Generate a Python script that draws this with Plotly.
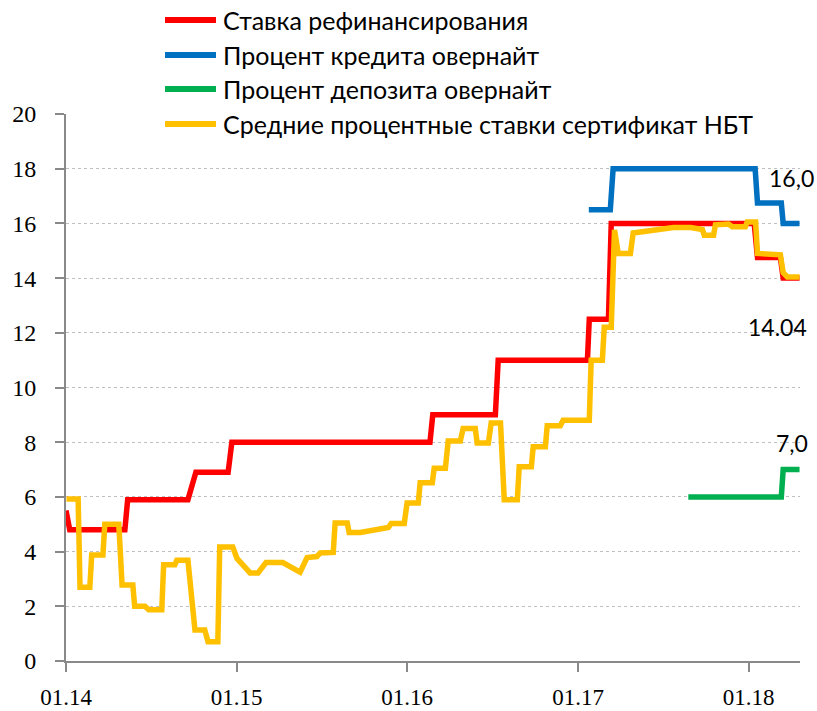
import plotly.graph_objects as go

# ---------------- data ----------------
refi_dates = ["2014-01-01", "2014-01-09", "2014-05-07", "2014-05-13", "2014-09-19", "2014-10-06",
              "2014-12-14", "2014-12-22", "2016-02-19", "2016-02-25", "2016-07-08", "2016-07-14",
              "2017-01-21", "2017-01-25", "2017-03-07", "2017-03-13", "2018-01-13", "2018-01-20",
              "2018-03-10", "2018-03-16", "2018-04-20"]
refi_values = [5.5, 4.8, 4.8, 5.9, 5.9, 6.9,
               6.9, 8.0, 8.0, 9.0, 9.0, 11.0,
               11.0, 12.5, 12.5, 16.0, 16.0, 14.75,
               14.75, 14.0, 14.0]

credit_dates = ["2017-01-24", "2017-03-11", "2017-03-17", "2018-01-15", "2018-01-20",
                "2018-03-12", "2018-03-16", "2018-04-20"]
credit_values = [16.5, 16.5, 18.0, 18.0, 16.75, 16.75, 16.0, 16.0]

deposit_dates = ["2017-08-25", "2018-03-12", "2018-03-16", "2018-04-20"]
deposit_values = [6.0, 6.0, 7.0, 7.0]

cert_dates = ["2014-01-02", "2014-01-27", "2014-01-31", "2014-02-21", "2014-02-25", "2014-03-21",
              "2014-03-25", "2014-04-24", "2014-05-01", "2014-05-24", "2014-05-28", "2014-06-19",
              "2014-06-27", "2014-07-25", "2014-07-29", "2014-08-22", "2014-08-26", "2014-09-19",
              "2014-10-04", "2014-10-25", "2014-11-01", "2014-11-22", "2014-11-26", "2014-12-24",
              "2015-01-02", "2015-01-30", "2015-02-16", "2015-03-05", "2015-04-10", "2015-05-17",
              "2015-06-01", "2015-06-22", "2015-06-29", "2015-07-27", "2015-07-31", "2015-08-26",
              "2015-08-30", "2015-09-23", "2015-11-22", "2015-11-28", "2015-12-26", "2016-01-01",
              "2016-01-25", "2016-01-29", "2016-02-24", "2016-02-28", "2016-03-23", "2016-03-29",
              "2016-04-24", "2016-04-30", "2016-05-26", "2016-05-30", "2016-06-23", "2016-06-29",
              "2016-07-19", "2016-07-27", "2016-08-24", "2016-08-28", "2016-09-23", "2016-09-27",
              "2016-10-23", "2016-10-27", "2016-11-24", "2016-11-30", "2017-01-25", "2017-01-29",
              "2017-02-22", "2017-02-26", "2017-03-13", "2017-03-20", "2017-03-28", "2017-04-23",
              "2017-04-29", "2017-05-25", "2017-06-26", "2017-07-24", "2017-08-30", "2017-09-24",
              "2017-09-28", "2017-10-18", "2017-10-22", "2017-11-19", "2017-11-27", "2017-12-25",
              "2017-12-29", "2018-01-16", "2018-01-20", "2018-02-21", "2018-03-10", "2018-03-16",
              "2018-03-25", "2018-04-20"]
cert_values = [5.92, 5.92, 2.7, 2.7, 3.88, 3.88,
               5.0, 5.0, 2.78, 2.78, 2.0, 2.0,
               1.87, 1.87, 3.52, 3.52, 3.68, 3.68,
               1.13, 1.13, 0.7, 0.7, 4.17, 4.17,
               3.75, 3.22, 3.22, 3.6, 3.6, 3.25,
               3.78, 3.82, 3.95, 3.97, 5.05, 5.05,
               4.7, 4.7, 4.88, 5.03, 5.03, 5.78,
               5.78, 6.52, 6.52, 7.05, 7.05, 8.04,
               8.04, 8.5, 8.5, 7.97, 7.97, 8.7,
               8.7, 5.9, 5.9, 7.1, 7.1, 7.83,
               7.83, 8.6, 8.6, 8.8, 8.8, 11.0,
               11.0, 12.2, 12.2, 15.76, 14.9, 14.9,
               15.65, 15.7, 15.8, 15.85, 15.85, 15.78,
               15.57, 15.57, 15.95, 15.98, 15.88, 15.88,
               16.05, 16.05, 14.9, 14.9, 14.85, 14.2,
               14.04, 14.04]

series_names = ["Ставка рефинансирования", "Процент кредита овернайт",
                "Процент депозита овернайт", "Средние процентные ставки сертификат НБТ"]
series_colors = ["#FF0000", "#0070C0", "#00B050", "#FFC000"]

tick_dates = ["2014-01-01", "2015-01-01", "2016-01-01", "2017-01-01", "2018-01-01"]
tick_labels = ["01.14", "01.15", "01.16", "01.17", "01.18"]
y_ticks = [0, 2, 4, 6, 8, 10, 12, 14, 16, 18, 20]

labels_text = ["16,0", "14.04", "7,0"]
labels_x = ["2018-04-03", "2018-03-04", "2018-04-03"]
labels_y = [17.66, 12.21, 7.97]

# ---------------- figure ----------------
W, H = 817, 711
ML, MR, MT, MB = 66, 17, 114, 50
PW, PH = W - ML - MR, H - MT - MB


def px_x(px):
    return (px - ML) / PW


def px_y(py):
    return (H - MB - py) / PH


fig = go.Figure()
all_series = [(refi_dates, refi_values), (credit_dates, credit_values),
              (deposit_dates, deposit_values), (cert_dates, cert_values)]
# draw order: blue, green, red, yellow (yellow on top of red)
for idx in [1, 2, 0, 3]:
    d, v = all_series[idx]
    fig.add_trace(go.Scatter(x=d, y=v, mode="lines", name=series_names[idx],
                             line=dict(color=series_colors[idx], width=5.5),
                             showlegend=False, hoverinfo="skip"))

sans = "Lato"
serif = "Liberation Serif"
# manual legend
row_y = [20, 55, 89, 124]
for i, name in enumerate(series_names):
    fig.add_shape(type="line", xref="paper", yref="paper",
                  x0=px_x(165), x1=px_x(216), y0=px_y(row_y[i]), y1=px_y(row_y[i]),
                  line=dict(color=series_colors[i], width=6), layer="above")
    fig.add_annotation(text=name, xref="paper", yref="paper",
                       x=px_x(221), y=px_y(row_y[i]), xanchor="left", yanchor="middle",
                       showarrow=False, font=dict(family=sans, size=25, color="#000000"))

for t, x, y in zip(labels_text, labels_x, labels_y):
    fig.add_annotation(text=t, x=x, y=y, xref="x", yref="y", xanchor="center",
                       yanchor="middle", showarrow=False,
                       font=dict(family=sans, size=23, color="#000000"))

axis_grey = "#898989"
fig.update_layout(
    width=W, height=H, autosize=False,
    font=dict(family=serif, size=23, color="#000000"),
    margin=dict(l=ML, r=MR, t=MT, b=MB, pad=0, autoexpand=False),
    paper_bgcolor="white", plot_bgcolor="white",
    showlegend=False,
    xaxis=dict(range=["2014-01-01", "2018-04-21"], tickvals=tick_dates, ticktext=tick_labels,
               showgrid=False, zeroline=False, showline=True, linecolor=axis_grey, linewidth=2,
               ticks="outside", ticklen=9, tickwidth=2, tickcolor=axis_grey,
               ticklabelstandoff=5, automargin=False,
               tickfont=dict(family=serif, size=23, color="#000000")),
    yaxis=dict(range=[0, 20], tickvals=y_ticks, showgrid=True, gridcolor="#BFBFBF",
               griddash="dot", gridwidth=1, zeroline=False, showline=True,
               linecolor=axis_grey, linewidth=2, ticks="outside", ticklen=9, tickwidth=2,
               tickcolor=axis_grey, ticklabelstandoff=14, automargin=False,
               tickfont=dict(family=serif, size=24, color="#000000")),
)

post = ("document.body.style.margin='0';document.body.style.padding='0';"
        "document.body.style.overflow='hidden';")

fig.write_html("out.html", post_script=post, config={"displayModeBar": False})
